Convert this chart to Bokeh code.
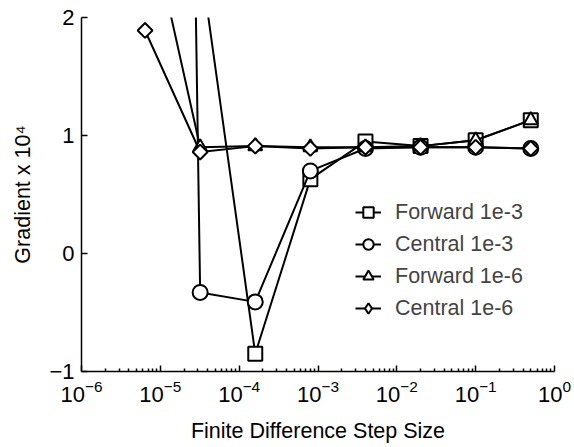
import numpy as np
from bokeh.plotting import figure
from bokeh.models import (LogAxis, LinearAxis, FixedTicker, LogTickFormatter, Legend, LegendItem,
                          Range1d, LogScale)
from bokeh.embed import file_html
from bokeh.resources import INLINE

# ---- data ----
step_size = [6.4e-6, 3.2e-5, 1.6e-4, 8e-4, 4e-3, 2e-2, 1e-1, 5e-1]
forward_1e3 = [np.nan, 2.5, -0.85, 0.63, 0.95, 0.91, 0.96, 1.13]
central_1e3 = [30.0, -0.33, -0.41, 0.70, 0.89, 0.90, 0.90, 0.89]
forward_1e6 = [3.0, 0.90, 0.91, 0.90, 0.90, 0.91, 0.96, 1.13]
central_1e6 = [1.89, 0.86, 0.91, 0.89, 0.90, 0.90, 0.90, 0.89]
series_names = ["Forward 1e-3", "Central 1e-3", "Forward 1e-6", "Central 1e-6"]
x_decades = [-6, -5, -4, -3, -2, -1, 0]
y_ticks = [-1, 0, 1, 2]

FONT = "Liberation Sans"

p = figure(width=572, height=445, x_axis_type=None, y_axis_type=None,
           x_range=Range1d(1e-6, 1), y_range=Range1d(-1, 2),
           output_backend="svg", toolbar_location=None,
           min_border_left=81, min_border_right=18, min_border_top=17, min_border_bottom=74)
p.x_scale = LogScale()
p.outline_line_color = None
p.grid.visible = False
p.background_fill_color = "white"
p.border_fill_color = "white"

major = [10.0 ** k for k in x_decades]
minor = [m * 10.0 ** k for k in x_decades[:-1] for m in range(2, 10)]
xaxis = LogAxis(ticker=FixedTicker(ticks=major, minor_ticks=minor),
                formatter=LogTickFormatter(),
                axis_label="Finite Difference Step Size")
yaxis = LinearAxis(ticker=FixedTicker(ticks=y_ticks), axis_label="Gradient x 10⁴")
for ax in (xaxis, yaxis):
    ax.axis_line_width = 1.5
    ax.axis_line_color = "black"
    ax.major_tick_in = 6
    ax.major_tick_out = 0
    ax.minor_tick_in = 3
    ax.minor_tick_out = 0
    ax.major_tick_line_width = 1.5
    ax.minor_tick_line_width = 1.5
    ax.major_label_text_font = FONT
    ax.major_label_text_font_size = "22px"
    ax.major_label_text_color = "black"
    ax.axis_label_text_font = FONT
    ax.axis_label_text_font_size = "21.5px"
    ax.axis_label_text_font_style = "normal"
    ax.axis_label_text_color = "black"
yaxis.minor_tick_line_color = None
xaxis.major_label_standoff = 8
xaxis.axis_label_standoff = 14
yaxis.major_label_standoff = 7
yaxis.axis_label_standoff = 11
p.add_layout(xaxis, "below")
p.add_layout(yaxis, "left")

markers = [("square", 14, 0.0), ("circle", 15, 0.0), ("triangle", 14, 0.0), ("square", 10.5, np.pi / 4)]
all_series = [forward_1e3, central_1e3, forward_1e6, central_1e6]
items = []
for name, ys, (mk, sz, ang) in zip(series_names, all_series, markers):
    lr = p.line(step_size, ys, line_color="black", line_width=2)
    sr = p.scatter(step_size, ys, marker=mk, size=sz, angle=ang, fill_color="white",
                   line_color="black", line_width=2)
    if ang != 0.0:
        # legend glyphs are drawn unrotated, so use a diamond marker for the key
        sr = p.scatter([np.nan], [np.nan], marker="diamond", size=18, fill_color="white",
                       line_color="black", line_width=2)
    items.append(LegendItem(label=name, renderers=[lr, sr]))

legend = Legend(items=items, location=(274, 49), border_line_color=None,
                background_fill_alpha=0, label_text_font=FONT, label_text_font_size="21.5px",
                glyph_width=26, glyph_height=28, label_height=28, spacing=4,
                label_standoff=14, padding=0, margin=0)
p.add_layout(legend, "center")

open("out.html", "w").write(file_html(p, INLINE))
